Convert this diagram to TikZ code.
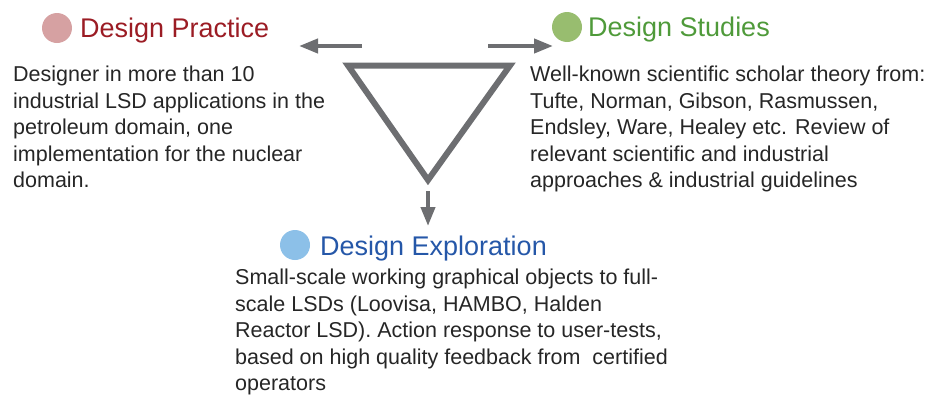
\documentclass[tikz,border=0pt]{standalone}
\usepackage{fontspec}
\setmainfont{Liberation Sans}
\usetikzlibrary{arrows.meta}
\definecolor{tri}{HTML}{6D6E71}
\definecolor{redT}{HTML}{9B1C24}
\definecolor{redC}{HTML}{D6A1A2}
\definecolor{greenT}{HTML}{4F9A3A}
\definecolor{greenC}{HTML}{98BD6F}
\definecolor{blueT}{HTML}{2557A8}
\definecolor{blueC}{HTML}{8CC0E8}
\tikzset{
  title/.style={anchor=base west, inner sep=0pt, font=\fontsize{27}{32}\selectfont},
  body/.style={anchor=north west, inner sep=0pt, align=left, text=black!85, font=\fontsize{21.5}{26.5}\selectfont},
  dot/.style={circle, minimum size=30pt, inner sep=0pt},
  arr/.style={draw=tri, line width=4pt, -{Triangle[length=19pt,width=14pt]}},
}
\begin{document}
\begin{tikzpicture}[x=1pt,y=-1pt]
\useasboundingbox (0,0) rectangle (928,394);
% triangle
\coordinate (tl) at (348,65.5);
\coordinate (tr) at (510,65.5);
\coordinate (tb) at (428,180);
\draw[tri, line width=6pt, line join=miter] (tl) -- (tr) -- (tb) -- cycle;
% arrows
\coordinate (la) at (362,46); \coordinate (lb) at (299,46);
\coordinate (ra) at (488,46); \coordinate (rb) at (553,46);
\coordinate (da) at (428,191); \coordinate (db) at (428,226);
\draw[arr] (la) -- (lb);
\draw[arr] (ra) -- (rb);
\draw[arr] (da) -- (db);
% titles
\node[dot, fill=redC] (c1) at (57,28) {};
\node[title, text=redT] (t1) at (80,37) {Design Practice};
\node[dot, fill=greenC] (c2) at (567,27) {};
\node[title, text=greenT] (t2) at (588,36) {Design Studies};
\node[dot, fill=blueC] (c3) at (295,245) {};
\node[title, text=blueT] (t3) at (320,255) {Design Exploration};
% bodies
\node[body] (b1) at (13,66) {Designer in more than 10\\industrial LSD applications in the\\petroleum domain, one\\implementation for the nuclear\\domain.};
\node[body] (b2) at (530,66) {Well-known scientific scholar theory from:\\Tufte, Norman, Gibson, Rasmussen,\\Endsley, Ware, Healey etc. Review of\\relevant scientific and industrial\\approaches \& industrial guidelines};
\node[body] (b3) at (235,269) {Small-scale working graphical objects to full-\\scale LSDs (Loovisa, HAMBO, Halden\\Reactor LSD). Action response to user-tests,\\based on high quality feedback from\ \ certified\\operators};
\end{tikzpicture}
\end{document}
